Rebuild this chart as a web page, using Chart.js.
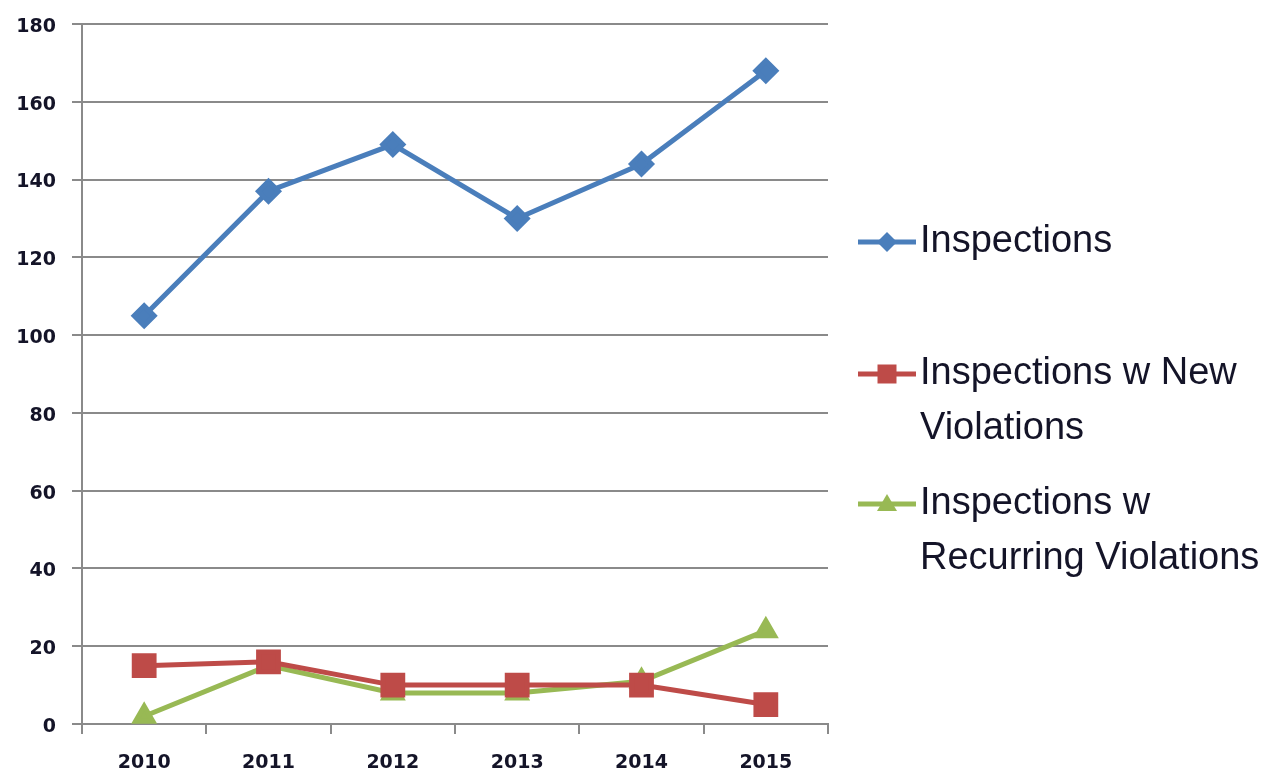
<!DOCTYPE html>
<html>
<head>
<meta charset="utf-8">
<script src="https://cdn.jsdelivr.net/npm/chart.js@4/dist/chart.umd.min.js"></script>
<style>
  html, body { margin: 0; padding: 0; background: #fff; }
  #wrap { width: 1272px; height: 773px; position: relative; }
</style>
</head>
<body>
<div id="wrap"><canvas id="c" width="1272" height="773"></canvas></div>
<script>
const categories = ["2010", "2011", "2012", "2013", "2014", "2015"];
const inspections = [105, 137, 149, 130, 144, 168];
const newViolations = [15, 16, 10, 10, 10, 5];
const recurringViolations = [2, 15, 8, 8, 11, 24];
const seriesNames = ["Inspections", "Inspections w New Violations", "Inspections w Recurring Violations"];
const yTicks = [0, 20, 40, 60, 80, 100, 120, 140, 160, 180];

const GRID = "#8a8a8a";
const TXT = "#141428";

const wrapLegend = {
  id: "wrapLegend",
  afterDraw(chart, args, opts) {
    const ctx = chart.ctx;
    ctx.save();
    ctx.font = opts.font;
    ctx.textBaseline = "middle";
    chart.data.datasets.forEach((ds, i) => {
      const words = ds.label.split(" ");
      const lines = [];
      let cur = "";
      words.forEach(w => {
        const t = cur ? cur + " " + w : w;
        if (ctx.measureText(t).width > opts.maxWidth && cur) { lines.push(cur); cur = w; }
        else cur = t;
      });
      if (cur) lines.push(cur);
      const y0 = opts.itemY[i];
      ctx.strokeStyle = ds.borderColor;
      ctx.lineWidth = 5;
      ctx.beginPath();
      ctx.moveTo(opts.sampleX0, y0);
      ctx.lineTo(opts.sampleX1, y0);
      ctx.stroke();
      const mx = (opts.sampleX0 + opts.sampleX1) / 2;
      ctx.fillStyle = ds.pointBackgroundColor;
      ctx.beginPath();
      if (ds.pointStyle === "rectRot") {
        const r = 10;
        ctx.moveTo(mx, y0 - r); ctx.lineTo(mx + r, y0); ctx.lineTo(mx, y0 + r); ctx.lineTo(mx - r, y0); ctx.closePath();
      } else if (ds.pointStyle === "rect") {
        const h = 9.5;
        ctx.rect(mx - h, y0 - h, h * 2, h * 2);
      } else {
        const r = 10;
        ctx.moveTo(mx, y0 - r); ctx.lineTo(mx + r, y0 + r * 0.7); ctx.lineTo(mx - r, y0 + r * 0.7); ctx.closePath();
      }
      ctx.fill();
      ctx.fillStyle = TXT;
      lines.forEach((ln, k) => ctx.fillText(ln, opts.textX, y0 + k * opts.lineH));
    });
    ctx.restore();
  }
};

const xTickFont = { family: "'DejaVu Sans', sans-serif", size: 19, weight: "bold" };
const yTickFont = { family: "'DejaVu Sans', sans-serif", size: 19, weight: "bold", lineHeight: 0.4 };

new Chart(document.getElementById("c"), {
  type: "line",
  data: {
    labels: categories,
    datasets: [
      { label: seriesNames[0], data: inspections, borderColor: "#4a7ebb", backgroundColor: "#4a7ebb",
        pointBackgroundColor: "#4a7ebb", pointBorderColor: "#4a7ebb", pointStyle: "rectRot", pointRadius: 10, borderWidth: 5 },
      { label: seriesNames[1], data: newViolations, borderColor: "#be4b48", backgroundColor: "#be4b48",
        pointBackgroundColor: "#be4b48", pointBorderColor: "#be4b48", pointStyle: "rect", pointRadius: 14, borderWidth: 5 },
      { label: seriesNames[2], data: recurringViolations, borderColor: "#98b954", backgroundColor: "#98b954",
        pointBackgroundColor: "#98b954", pointBorderColor: "#98b954", pointStyle: "triangle", pointRadius: 10, borderWidth: 5 }
    ]
  },
  options: {
    responsive: false,
    animation: false,
    layout: { padding: { left: 0, right: 444, top: 24, bottom: 0 } },
    plugins: {
      legend: { display: false },
      tooltip: { enabled: false },
      wrapLegend: {
        font: "38px 'Liberation Sans', Arial, sans-serif",
        maxWidth: 352, textX: 920, sampleX0: 858, sampleX1: 916, lineH: 55,
        itemY: [242, 374, 504]
      }
    },
    scales: {
      x: {
        offset: true,
        grid: { offset: true, drawOnChartArea: false, drawTicks: true, tickLength: 10, color: GRID, lineWidth: 2 },
        border: { color: GRID, width: 2 },
        ticks: { color: TXT, font: xTickFont, padding: 18, maxRotation: 0 },
        afterFit(s) { s.height = 49; }
      },
      y: {
        min: 0, max: 180,
        afterBuildTicks(s) { s.ticks = yTicks.map(v => ({ value: v })); },
        grid: { color: GRID, lineWidth: 2, tickLength: 10 },
        border: { color: GRID, width: 2 },
        ticks: { color: TXT, font: yTickFont, padding: 16, labelOffset: 3 },
        afterFit(s) { s.width = 82; }
      }
    }
  },
  plugins: [wrapLegend]
});
</script>
</body>
</html>
